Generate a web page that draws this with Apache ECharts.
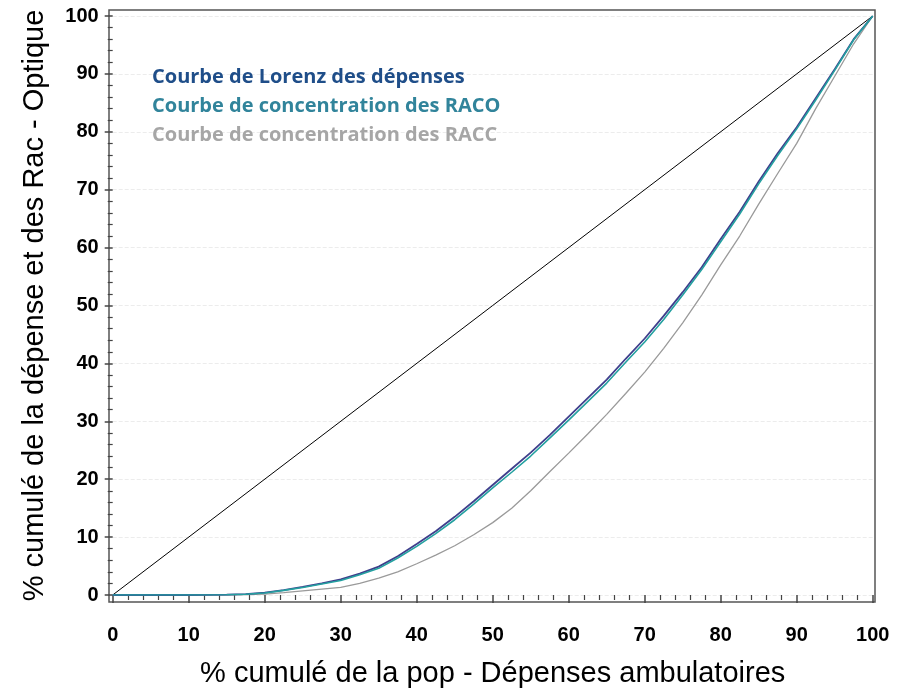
<!DOCTYPE html>
<html>
<head>
<meta charset="utf-8">
<script src="https://cdn.jsdelivr.net/npm/echarts@6/dist/echarts.min.js"></script>
<style>
  html, body { margin: 0; padding: 0; background: #fff; }
  #main { width: 906px; height: 694px; }
</style>
</head>
<body>
<div id="main"></div>
<script>
// % cumulé de la population
const popPct = [0, 5, 10, 15, 17.5, 20, 22.5, 25, 27.5, 30, 32.5, 35, 37.5, 40, 42.5, 45, 47.5, 50, 52.5, 55, 57.5, 60, 62.5, 65, 67.5, 70, 72.5, 75, 77.5, 80, 82.5, 85, 87.5, 90, 92.5, 95, 97.5, 100]
// Courbe de Lorenz des dépenses
const lorenz = [0, 0, 0, 0.05, 0.15, 0.4, 0.85, 1.4, 2.0, 2.7, 3.7, 4.9, 6.7, 8.8, 11.0, 13.5, 16.2, 19.0, 21.8, 24.6, 27.6, 30.8, 34.0, 37.2, 40.8, 44.3, 48.2, 52.3, 56.6, 61.5, 66.2, 71.4, 76.3, 80.8, 85.8, 90.8, 96.0, 100]
// Courbe de concentration des RACO
const raco = [0, 0, 0, 0.05, 0.12, 0.35, 0.8, 1.3, 1.9, 2.5, 3.5, 4.6, 6.4, 8.4, 10.6, 13.0, 15.7, 18.5, 21.2, 24.0, 27.1, 30.2, 33.4, 36.6, 40.2, 43.7, 47.6, 51.8, 56.2, 61.0, 65.8, 71.0, 75.9, 80.5, 85.5, 90.6, 95.9, 100]
// Courbe de concentration des RACC
const racc = [0, 0, 0, 0, 0.05, 0.15, 0.4, 0.7, 1.0, 1.3, 2.0, 2.9, 4.0, 5.4, 6.9, 8.5, 10.4, 12.5, 15.0, 18.0, 21.3, 24.5, 27.8, 31.2, 34.8, 38.5, 42.6, 47.0, 51.8, 57.0, 62.0, 67.5, 72.8, 78.0, 84.0, 89.6, 95.2, 100]
// diagonale d'égalité
const egalite = [[0, 0], [100, 100]]

const seriesNames = ['Courbe de Lorenz des dépenses', 'Courbe de concentration des RACO', 'Courbe de concentration des RACC']
const lineColors = ['#3f3f8c', '#24a0a0', '#9a9a9a']
const textColors = ['#1f4e89', '#31849b', '#a6a6a6']

const pairs = (ys) => popPct.map((x, i) => [x, ys[i]])

const chart = echarts.init(document.getElementById('main'))
const axisFont = { fontFamily: 'Liberation Sans, Arial, sans-serif', fontWeight: 'bold', fontSize: 20, color: '#000' }
const titleFont = { fontFamily: 'Liberation Sans, Arial, sans-serif', fontSize: 29, color: '#000' }

const option = {
  animation: false,
  grid: { left: 112.7, right: 33.3, top: 16, bottom: 99, containLabel: false, outerBoundsMode: 'none' },
  legend: {
    orient: 'vertical',
    left: 142,
    top: 62,
    itemGap: 9,
    itemWidth: 0,
    itemHeight: 0,
    icon: 'none',
    selectedMode: false,
    textStyle: { fontFamily: 'Open Sans, Noto Sans, sans-serif', fontWeight: 'bold', fontSize: 20, padding: 0 },
    data: seriesNames.map((n, i) => ({ name: n, textStyle: { color: textColors[i] } }))
  },
  xAxis: {
    type: 'value',
    min: 0,
    max: 100,
    interval: 10,
    offset: 7,
    name: '% cumulé de la pop - Dépenses ambulatoires',
    nameLocation: 'middle',
    nameGap: 57,
    nameTextStyle: titleFont,
    axisLine: { show: false },
    axisTick: { show: true, length: 8, lineStyle: { color: '#444', width: 1.5 } },
    minorTick: { show: true, splitNumber: 5, length: 5, lineStyle: { color: '#444', width: 1.2 } },
    axisLabel: Object.assign({ margin: 23 }, axisFont),
    splitLine: { show: false }
  },
  yAxis: {
    type: 'value',
    min: 0,
    max: 100,
    interval: 10,
    offset: 4,
    name: '% cumulé de la dépense et des Rac - Optique',
    nameLocation: 'middle',
    nameGap: 59,
    nameTextStyle: titleFont,
    axisLine: { show: false },
    axisTick: { show: true, length: 8, lineStyle: { color: '#444', width: 1.5 } },
    minorTick: { show: true, splitNumber: 5, length: 5, lineStyle: { color: '#444', width: 1.2 } },
    axisLabel: Object.assign({ margin: 10 }, axisFont),
    splitLine: { show: true, lineStyle: { color: '#ececec', width: 1, type: 'dashed' } }
  },
  graphic: [{
    type: 'rect',
    silent: true,
    shape: { x: 109, y: 10, width: 766, height: 592 },
    style: { fill: 'none', stroke: '#555', lineWidth: 1.5 }
  }],
  series: [
    {
      name: 'égalité',
      type: 'line',
      data: egalite,
      showSymbol: false,
      lineStyle: { color: '#000', width: 1 }
    },
    {
      name: seriesNames[2],
      type: 'line',
      data: pairs(racc),
      showSymbol: false,
      color: lineColors[2],
      lineStyle: { color: lineColors[2], width: 1.3 }
    },
    {
      name: seriesNames[0],
      type: 'line',
      data: pairs(lorenz),
      showSymbol: false,
      color: lineColors[0],
      lineStyle: { color: lineColors[0], width: 1.8 }
    },
    {
      name: seriesNames[1],
      type: 'line',
      data: pairs(raco),
      showSymbol: false,
      color: lineColors[1],
      lineStyle: { color: lineColors[1], width: 1.6 }
    }
  ]
}
chart.setOption(option)
</script>
</body>
</html>
